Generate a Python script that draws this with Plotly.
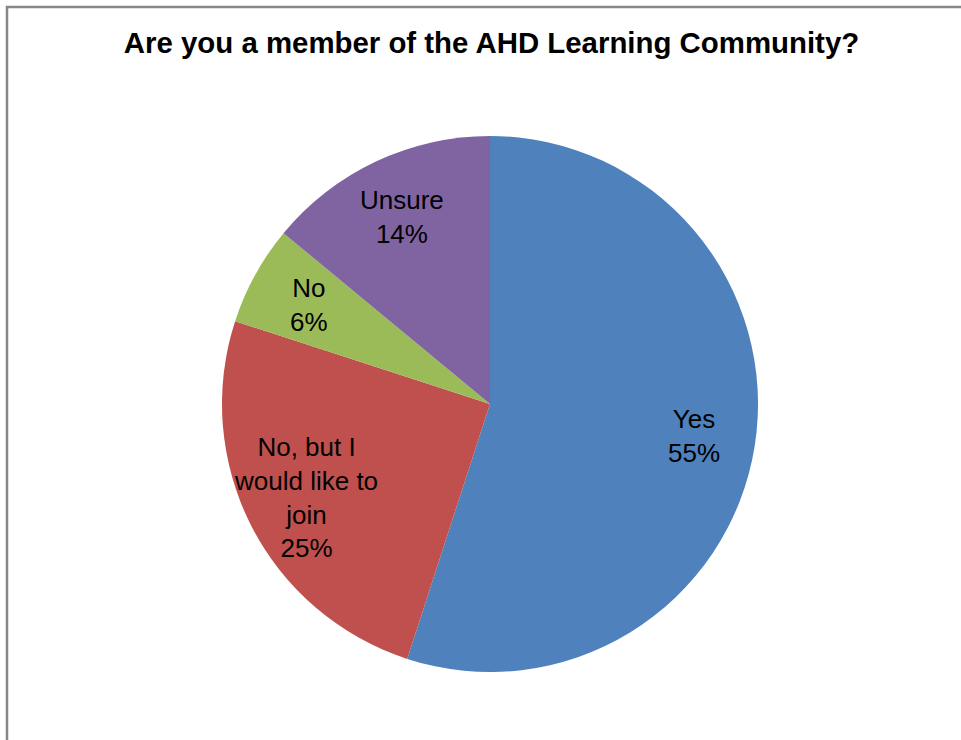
import math
import plotly.graph_objects as go

categories = ["Yes", "No, but I<br>would like to<br>join", "No", "Unsure"]
values = [55, 25, 6, 14]
colors = ["#4F81BD", "#C0504D", "#9BBB59", "#8064A2"]
title_text = "Are you a member of the AHD Learning Community?"

W, H = 961, 740
cx, cy, R = 490, 404, 268
label_radius = 0.77  # fraction of radius where inside labels sit

fig = go.Figure(go.Pie(
    labels=categories,
    values=values,
    sort=False,
    direction="clockwise",
    rotation=0,
    marker=dict(colors=colors, line=dict(width=0)),
    textinfo="none",
    showlegend=False,
    hoverinfo="label+percent",
    domain=dict(x=[(cx - R) / W, (cx + R) / W], y=[1 - (cy + R) / H, 1 - (cy - R) / H]),
))

# Labels placed at each slice's mid-angle, derived from the values
total = sum(values)
cum = 0
annotations = []
for lab, v in zip(categories, values):
    mid = (cum + v / 2) / total * 2 * math.pi
    cum += v
    px = cx + label_radius * R * math.sin(mid)
    py = cy - label_radius * R * math.cos(mid)
    annotations.append(dict(
        x=px / W, y=1 - py / H, xref="paper", yref="paper",
        text=f"{lab}<br>{round(v / total * 100)}%",
        showarrow=False, xanchor="center", yanchor="middle", align="center",
        font=dict(family="Liberation Sans, Arial, sans-serif", size=26, color="black"),
    ))

fig.update_layout(
    width=W, height=H,
    margin=dict(l=0, r=0, t=0, b=0),
    paper_bgcolor="white",
    plot_bgcolor="white",
    title=dict(
        text="<b>" + title_text + "</b>",
        font=dict(family="Liberation Sans, Arial, sans-serif", size=29.4, color="black"),
        x=491.5 / W, xanchor="center", xref="paper",
        y=1 - 43 / H, yanchor="middle", yref="paper",
    ),
    annotations=annotations,
    shapes=[dict(
        type="rect", xref="paper", yref="paper",
        x0=7 / W, x1=1.05, y0=-0.05, y1=1 - 7 / H,
        line=dict(color="#878787", width=2.5),
        fillcolor="rgba(0,0,0,0)", layer="above",
    )],
)

fig.write_html(
    "out.html",
    config={"displayModeBar": False},
    post_script="document.body.style.margin='0';document.body.style.overflow='hidden';",
)
